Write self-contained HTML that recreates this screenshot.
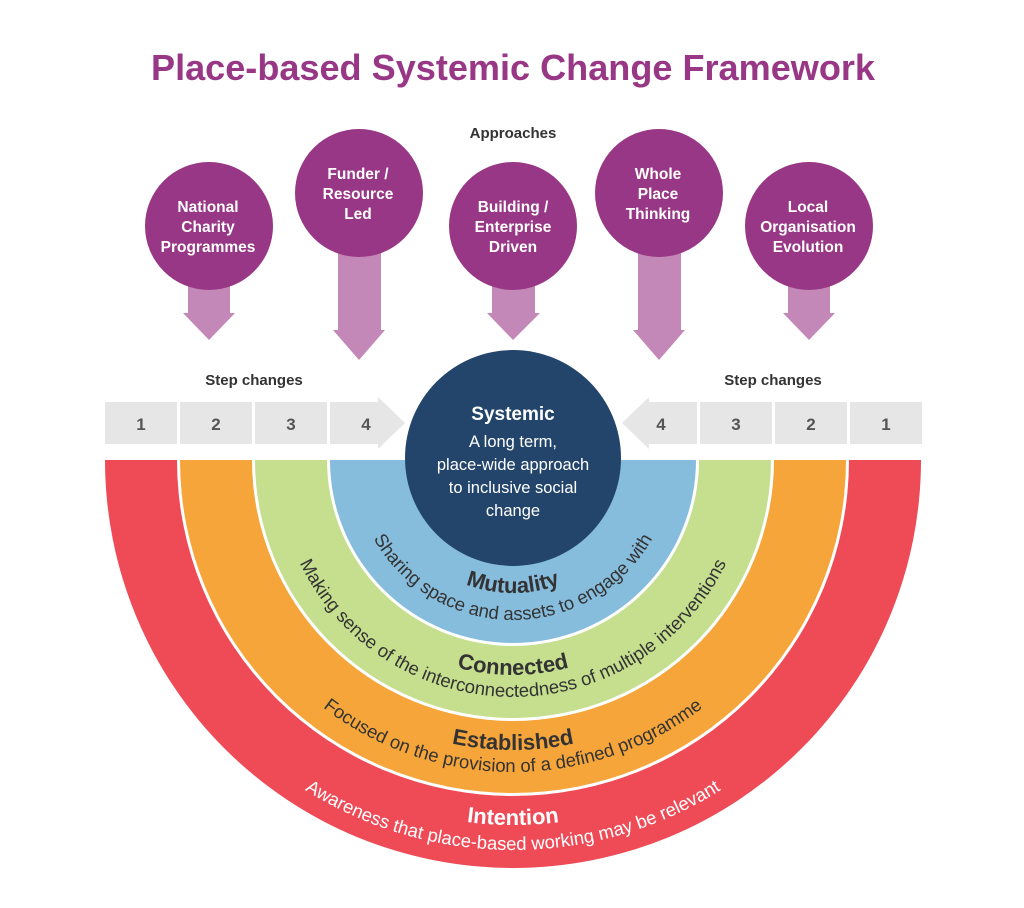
<!DOCTYPE html>
<html><head><meta charset="utf-8"><style>html,body{margin:0;padding:0;background:#fff}svg{display:block}text{font-family:"Liberation Sans",sans-serif}</style></head><body>
<svg width="1024" height="908" viewBox="0 0 1024 908" xmlns="http://www.w3.org/2000/svg">
<defs>
<path id="p1" d="M353,460 A160,160 0 0 0 673,460"/>
<path id="p1t" d="M380,460 A133,133 0 0 0 646,460"/>
<path id="p2" d="M276,460 A237,237 0 0 0 750,460"/>
<path id="p2t" d="M298,460 A215,215 0 0 0 728,460"/>
<path id="p3" d="M201,460 A312,312 0 0 0 825,460"/>
<path id="p3t" d="M223,460 A290,290 0 0 0 803,460"/>
<path id="p4" d="M123,460 A390,390 0 0 0 903,460"/>
<path id="p4t" d="M148,460 A365,365 0 0 0 878,460"/>
</defs>
<text x="513" y="80" text-anchor="middle" font-size="36" font-weight="bold" fill="#983785" textLength="724" lengthAdjust="spacingAndGlyphs">Place-based Systemic Change Framework</text>
<text x="513" y="138" text-anchor="middle" font-size="15" font-weight="bold" fill="#333">Approaches</text>
<g fill="#c387b8">
<path d="M188,270 H230 V313 H235 L209,340 L183,313 H188Z"/>
<path d="M338,240 H381 V330 H385 L359,360 L333,330 H338Z"/>
<path d="M492,270 H535 V313 H540 L513,340 L487,313 H492Z"/>
<path d="M638,240 H681 V330 H685 L659,360 L633,330 H638Z"/>
<path d="M788,270 H830 V313 H835 L809,340 L783,313 H788Z"/>
</g>
<g fill="#983785">
<circle cx="209" cy="226" r="64"/><circle cx="359" cy="193" r="64"/><circle cx="513" cy="226" r="64"/><circle cx="659" cy="193" r="64"/><circle cx="809" cy="226" r="64"/>
</g>
<g fill="#fff" font-size="15.5" font-weight="bold" text-anchor="middle">
<text x="208" y="212">National</text><text x="208" y="232">Charity</text><text x="208" y="252">Programmes</text>
<text x="358" y="179">Funder /</text><text x="358" y="199">Resource</text><text x="358" y="219">Led</text>
<text x="513" y="212">Building /</text><text x="513" y="232">Enterprise</text><text x="513" y="252">Driven</text>
<text x="658" y="179">Whole</text><text x="658" y="199">Place</text><text x="658" y="219">Thinking</text>
<text x="808" y="212">Local</text><text x="808" y="232">Organisation</text><text x="808" y="252">Evolution</text>
</g>
<g font-size="15" font-weight="bold" fill="#333" text-anchor="middle">
<text x="254" y="385">Step changes</text><text x="773" y="385">Step changes</text>
</g>
<g fill="#e6e6e6">
<rect x="105" y="402" width="72" height="42"/><rect x="180" y="402" width="72" height="42"/><rect x="255" y="402" width="72" height="42"/>
<path d="M330,402 H378 V397 L405,423 L378,449 V444 H330Z"/>
<rect x="850" y="402" width="72" height="42"/><rect x="775" y="402" width="72" height="42"/><rect x="700" y="402" width="72" height="42"/>
<path d="M697,402 H649 V397 L622,423 L649,449 V444 H697Z"/>
</g>
<g font-size="17" font-weight="bold" fill="#555" text-anchor="middle">
<text x="141" y="430">1</text><text x="216" y="430">2</text><text x="291" y="430">3</text><text x="366" y="430">4</text>
<text x="661" y="430">4</text><text x="736" y="430">3</text><text x="811" y="430">2</text><text x="886" y="430">1</text>
</g>
<path d="M105,460 A408,408 0 0 0 921,460Z" fill="#ee4b57"/>
<path d="M177,460 A336,336 0 0 0 849,460Z" fill="#fff"/>
<path d="M180,460 A333,333 0 0 0 846,460Z" fill="#f6a53b"/>
<path d="M252,460 A261,261 0 0 0 774,460Z" fill="#fff"/>
<path d="M255,460 A258,258 0 0 0 771,460Z" fill="#c5df8e"/>
<path d="M327,460 A186,186 0 0 0 699,460Z" fill="#fff"/>
<path d="M330,460 A183,183 0 0 0 696,460Z" fill="#86bcdc"/>
<circle cx="513" cy="458" r="108" fill="#23456b"/>
<text x="513" y="420" text-anchor="middle" font-size="19" font-weight="bold" fill="#fff">Systemic</text>
<g font-size="16.5" fill="#fff" text-anchor="middle">
<text x="513" y="447">A long term,</text><text x="513" y="470">place-wide approach</text><text x="513" y="493">to inclusive social</text><text x="513" y="516">change</text>
</g>
<g font-size="18.5" fill="#333">
<text><textPath href="#p1" startOffset="50%" text-anchor="middle">Sharing space and assets to engage with</textPath></text>
<text><textPath href="#p2" startOffset="50%" text-anchor="middle">Making sense of the interconnectedness of multiple interventions</textPath></text>
<text><textPath href="#p3" startOffset="50%" text-anchor="middle">Focused on the provision of a defined programme</textPath></text>
<text fill="#fff"><textPath href="#p4" startOffset="50%" text-anchor="middle">Awareness that place-based working may be relevant</textPath></text>
</g>
<g font-size="22" font-weight="bold" fill="#333">
<text><textPath href="#p1t" startOffset="50%" text-anchor="middle">Mutuality</textPath></text>
<text><textPath href="#p2t" startOffset="50%" text-anchor="middle">Connected</textPath></text>
<text><textPath href="#p3t" startOffset="50%" text-anchor="middle">Established</textPath></text>
<text fill="#fff"><textPath href="#p4t" startOffset="50%" text-anchor="middle">Intention</textPath></text>
</g>
</svg>
</body></html>
